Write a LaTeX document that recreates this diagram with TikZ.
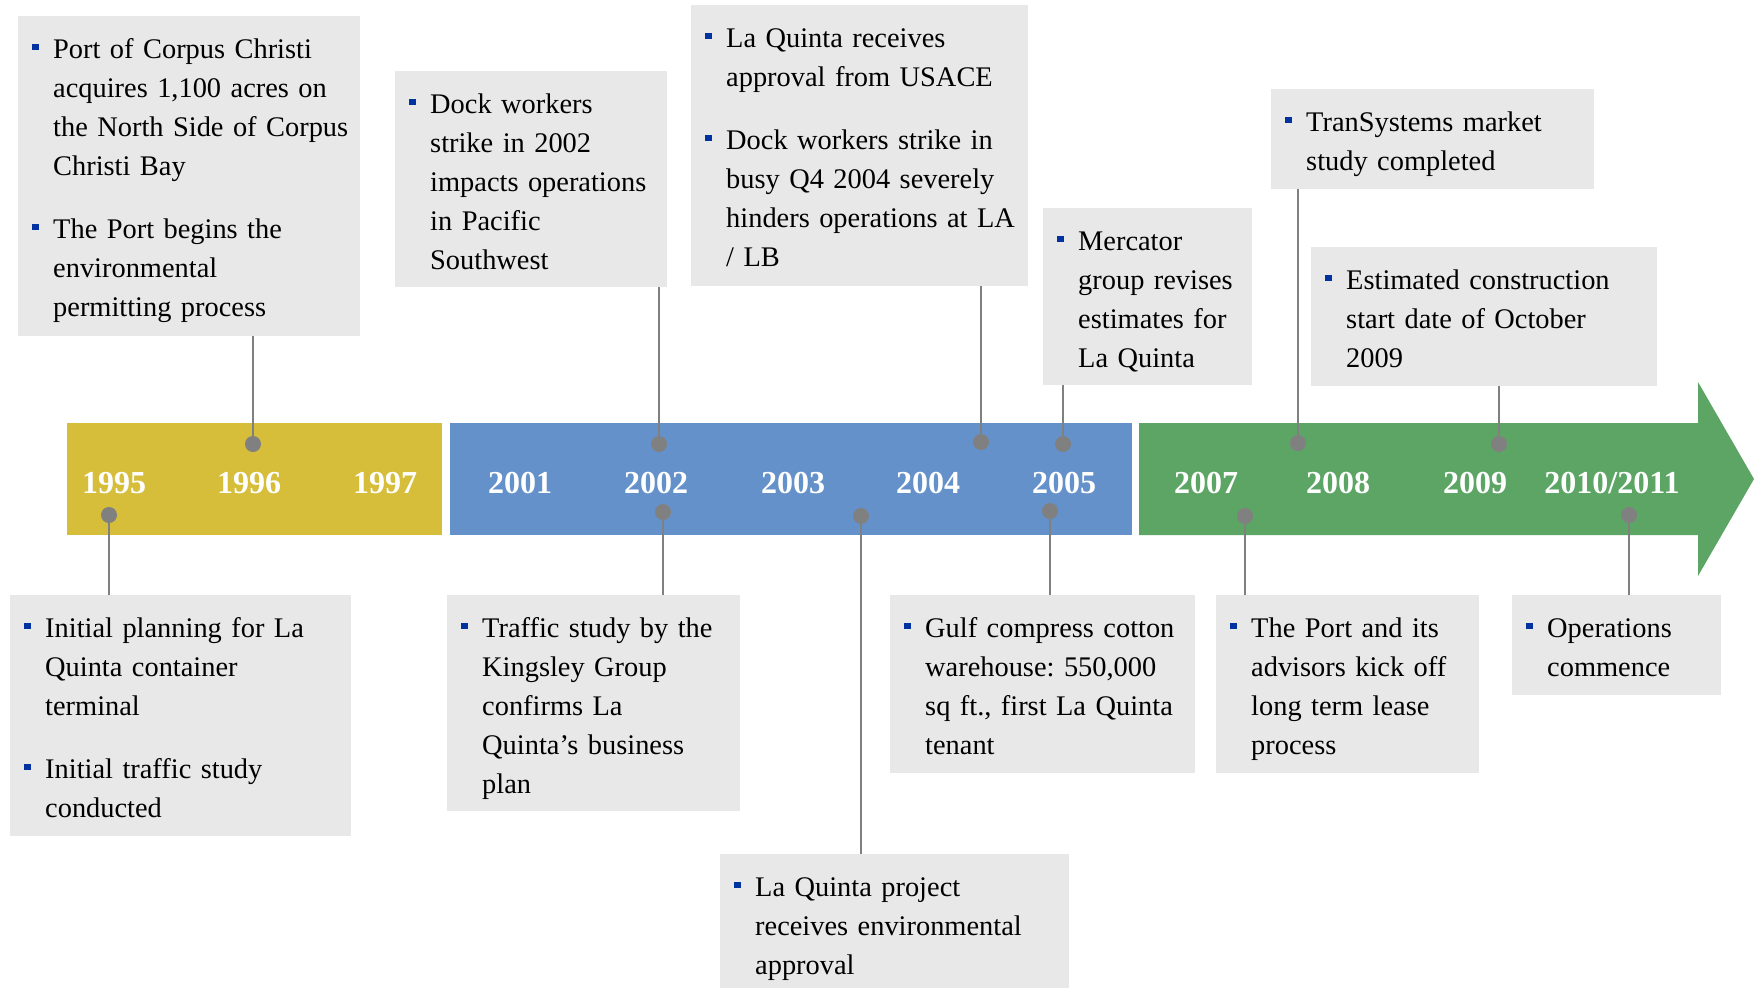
\documentclass[tikz,border=0pt]{standalone}
\usepackage{fontspec}
\setmainfont{Liberation Serif}
\usepackage{tikz}
\usetikzlibrary{positioning}
\definecolor{boxgray}{RGB}{232,232,232}
\definecolor{baryellow}{RGB}{214,189,58}
\definecolor{barblue}{RGB}{101,145,203}
\definecolor{bargreen}{RGB}{93,165,101}
\definecolor{bulletblue}{RGB}{0,51,160}
\definecolor{pingray}{RGB}{128,128,128}
\newcommand{\bul}{\leftskip=35pt\rightskip=-25pt plus 1fil\relax\frenchspacing\leavevmode\llap{\textcolor{bulletblue}{\rule[8pt]{6.5pt}{6.5pt}}\hspace{14.5pt}}}
\newcommand{\itemgap}{\par\vspace{24pt}}

\begin{document}
\begin{tikzpicture}[x=1pt,y=-1pt,
  event/.style={fill=boxgray, anchor=north west, inner sep=0pt, text height=42pt, align=left, font=\fontsize{28.4}{39}\selectfont},
  year/.style={anchor=base, text=white, font=\fontsize{32}{38}\selectfont\bfseries},
  pin/.style={circle, fill=pingray, inner sep=0pt, minimum size=16pt},
  stem/.style={draw=pingray, line width=2pt}]
\useasboundingbox (0,0) rectangle (1754,988);

% time bar
\fill[baryellow] (67,423) rectangle (442,535);
\fill[barblue] (450,423) rectangle (1132,535);
\fill[bargreen] (1139,423) -- (1698,423) -- (1698,382) -- (1754,479) -- (1698,576) -- (1698,535) -- (1139,535) -- cycle;

\foreach \nm/\yr/\xx in {y95/1995/114, y96/1996/249, y97/1997/385, y01/2001/520, y02/2002/656, y03/2003/793, y04/2004/928, y05/2005/1064, y07/2007/1206, y08/2008/1338, y09/2009/1475, y10/{2010/2011}/1612}
  \node[year] (\nm) at (\xx,493) {\yr};

% events above the bar
\node[event, text width=342pt, text depth=278pt] (b96) at (18,16) {\bul Port of Corpus Christi\\ acquires 1,100 acres on\\ the North Side of Corpus\\ Christi Bay\itemgap\bul The Port begins the\\ environmental\\ permitting process\par};
\node[event, text width=272pt, text depth=174pt] (b02t) at (395,71) {\bul Dock workers\\ strike in 2002\\ impacts operations\\ in Pacific\\ Southwest\par};
\node[event, text width=337pt, text depth=239pt] (b04) at (691,5) {\bul La Quinta receives\\ approval from USACE\itemgap\bul Dock workers strike in\\ busy Q4 2004 severely\\ hinders operations at LA\\ / LB\par};
\node[event, text width=209pt, text depth=135pt] (b05t) at (1043,208) {\bul Mercator\\ group revises\\ estimates for\\ La Quinta\par};
\node[event, text width=323pt, text depth=58pt] (b08) at (1271,89) {\bul TranSystems market\\ study completed\par};
\node[event, text width=346pt, text depth=97pt] (b09) at (1311,247) {\bul Estimated construction\\ start date of October\\ 2009\par};

% events below the bar
\node[event, text width=341pt, text depth=199pt] (b95) at (10,595) {\bul Initial planning for La\\ Quinta container\\ terminal\itemgap\bul Initial traffic study\\ conducted\par};
\node[event, text width=293pt, text depth=174pt] (b02b) at (447,595) {\bul Traffic study by the\\ Kingsley Group\\ confirms La\\ Quinta’s business\\ plan\par};
\node[event, text width=349pt, text depth=96pt] (b03) at (720,854) {\bul La Quinta project\\ receives environmental\\ approval\par};
\node[event, text width=305pt, text depth=136pt] (b05b) at (890,595) {\bul Gulf compress cotton\\ warehouse: 550,000\\ sq ft., first La Quinta\\ tenant\par};
\node[event, text width=263pt, text depth=136pt] (b07) at (1216,595) {\bul The Port and its\\ advisors kick off\\ long term lease\\ process\par};
\node[event, text width=209pt, text depth=58pt] (b10) at (1512,595) {\bul Operations\\ commence\par};

% pins
\foreach \nm/\xx/\yy/\bx in {d96/253/444/b96, d02t/659/444/b02t, d04/981/442/b04, d05t/1063/444/b05t, d08/1298/443/b08, d09/1499/444/b09} {
  \node[pin] (\nm) at (\xx,\yy) {};
  \draw[stem] (\nm) -- (\nm |- \bx.south);
}
\foreach \nm/\xx/\yy/\bx in {d95/109/515/b95, d02b/663/512/b02b, d03/861/516/b03, d05b/1050/511/b05b, d07/1245/516/b07, d10/1629/515/b10} {
  \node[pin] (\nm) at (\xx,\yy) {};
  \draw[stem] (\nm) -- (\nm |- \bx.north);
}
\end{tikzpicture}
\end{document}
